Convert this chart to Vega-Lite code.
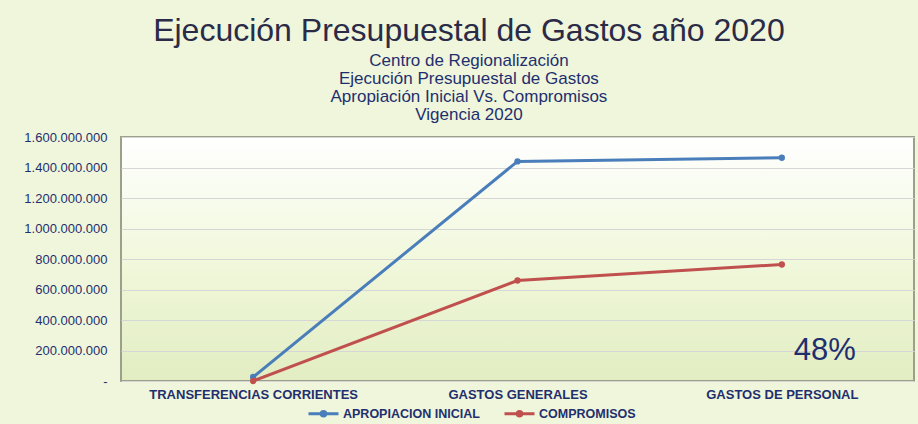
{
  "$schema": "https://vega.github.io/schema/vega-lite/v6.json",
  "width": 793,
  "height": 244,
  "autosize": {"type": "none"},
  "padding": {"left": 121, "top": 137, "right": 4, "bottom": 43},
  "background": "#eff6dc",
  "title": {
    "text": "Ejecución Presupuestal de Gastos año 2020",
    "subtitle": ["Centro de Regionalización", "Ejecución Presupuestal de Gastos", "Apropiación Inicial Vs. Compromisos", "Vigencia 2020"],
    "anchor": "middle",
    "frame": "bounds",
    "font": "Liberation Sans",
    "fontSize": 32,
    "fontWeight": "normal",
    "color": "#2b2b48",
    "subtitleFont": "Liberation Sans",
    "subtitleFontSize": 17,
    "subtitleColor": "#1f2f6e",
    "subtitleLineHeight": 18,
    "subtitlePadding": 5,
    "offset": 7
  },
  "config": {
    "view": {
      "stroke": "#9aa08a",
      "strokeWidth": 2,
      "fill": {"gradient": "linear", "x1": 0, "y1": 0, "x2": 0, "y2": 1, "stops": [{"offset": 0, "color": "#ffffff"}, {"offset": 0.5, "color": "#f1f8dc"}, {"offset": 1, "color": "#e2edc2"}]}
    },
    "axis": {"labelFont": "Liberation Sans", "labelColor": "#1f2f6e", "title": null, "ticks": false, "domain": false},
    "legend": {"labelFont": "Liberation Sans", "labelColor": "#1f2f6e"}
  },
  "layer": [
    {
      "data": {
        "values": [
          {"categoria": "TRANSFERENCIAS CORRIENTES", "serie": "APROPIACION INICIAL", "valor": 26000000},
          {"categoria": "GASTOS GENERALES", "serie": "APROPIACION INICIAL", "valor": 1440000000},
          {"categoria": "GASTOS DE PERSONAL", "serie": "APROPIACION INICIAL", "valor": 1464000000},
          {"categoria": "TRANSFERENCIAS CORRIENTES", "serie": "COMPROMISOS", "valor": 0},
          {"categoria": "GASTOS GENERALES", "serie": "COMPROMISOS", "valor": 659000000},
          {"categoria": "GASTOS DE PERSONAL", "serie": "COMPROMISOS", "valor": 764000000}
        ]
      },
      "mark": {"type": "line", "strokeWidth": 3, "point": {"filled": true, "size": 40}},
      "encoding": {
        "x": {
          "field": "categoria",
          "type": "nominal",
          "scale": {"type": "point", "padding": 0.5, "domain": ["TRANSFERENCIAS CORRIENTES", "GASTOS GENERALES", "GASTOS DE PERSONAL"]},
          "axis": {"labelAngle": 0, "labelFontWeight": "bold", "labelFontSize": 13, "labelPadding": 7, "labelLimit": 400, "grid": false}
        },
        "y": {
          "field": "valor",
          "type": "quantitative",
          "scale": {"domain": [0, 1600000000]},
          "axis": {
            "values": [0, 200000000, 400000000, 600000000, 800000000, 1000000000, 1200000000, 1400000000, 1600000000],
            "labelExpr": "datum.value == 0 ? '-' : replace(format(datum.value, ','), regexp(',', 'g'), '.')",
            "labelFontSize": 13,
            "labelPadding": 14,
            "labelOverlap": false,
            "grid": true,
            "gridColor": "#d6d6d6",
            "gridWidth": 1
          }
        },
        "color": {
          "field": "serie",
          "type": "nominal",
          "scale": {"domain": ["APROPIACION INICIAL", "COMPROMISOS"], "range": ["#4a7ebb", "#c0504d"]},
          "legend": {
            "title": null,
            "orient": "none",
            "direction": "horizontal",
            "legendX": 186,
            "legendY": 260,
            "symbolType": "M-1,0H1M-0.15,0a0.15,0.15 0 1,0 0.3,0a0.15,0.15 0 1,0 -0.3,0",
            "symbolSize": 900,
            "symbolStrokeWidth": 3,
            "symbolFillColor": "transparent",
            "labelFontWeight": "bold",
            "labelFontSize": 12.5,
            "labelOffset": 3,
            "labelLimit": 300,
            "columnPadding": 18
          }
        }
      }
    },
    {
      "data": {"values": [{"etiqueta": "48%"}]},
      "mark": {"type": "text", "font": "Liberation Sans", "fontSize": 31, "color": "#1f2f6e", "dx": 43, "baseline": "middle"},
      "encoding": {
        "x": {
          "datum": "GASTOS DE PERSONAL",
          "axis": {"labelAngle": 0, "labelFontWeight": "bold", "labelFontSize": 13, "labelPadding": 7, "labelLimit": 400, "grid": false}
        },
        "y": {
          "datum": 200000000,
          "axis": {
            "values": [0, 200000000, 400000000, 600000000, 800000000, 1000000000, 1200000000, 1400000000, 1600000000],
            "labelExpr": "datum.value == 0 ? '-' : replace(format(datum.value, ','), regexp(',', 'g'), '.')",
            "labelFontSize": 13,
            "labelPadding": 14,
            "labelOverlap": false,
            "grid": true,
            "gridColor": "#d6d6d6",
            "gridWidth": 1
          }
        },
        "text": {"field": "etiqueta"}
      }
    }
  ]
}
